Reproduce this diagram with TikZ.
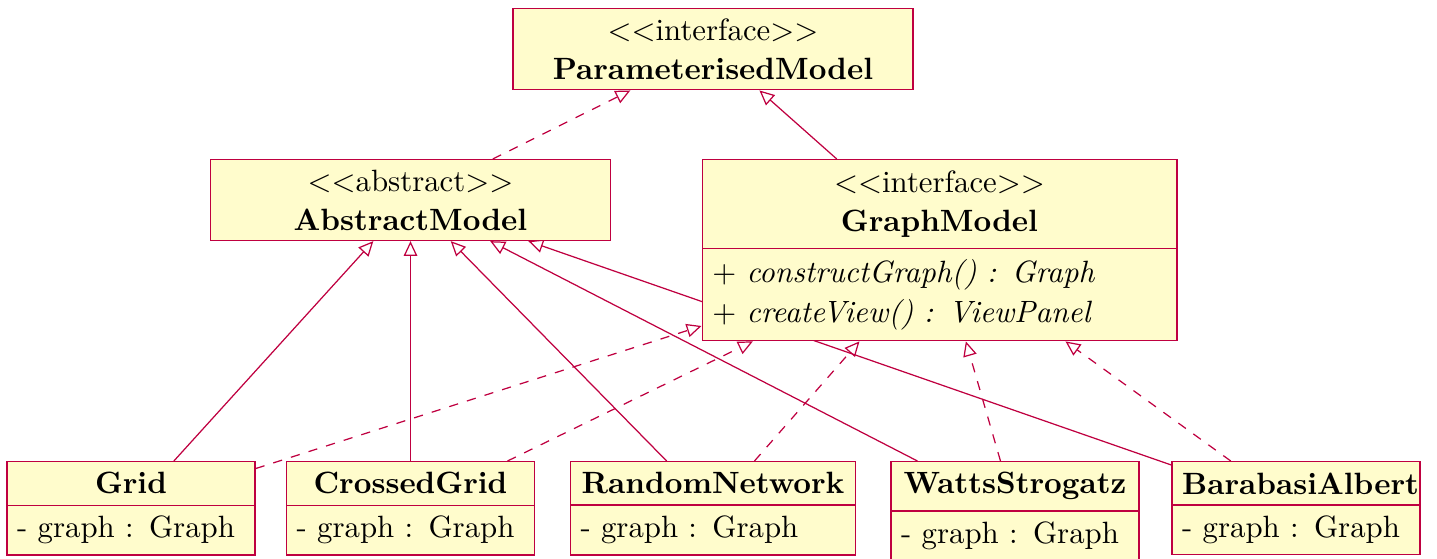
\documentclass[tikz,border=0pt]{standalone}
\usetikzlibrary{shapes.multipart,arrows.meta}
\pgfdeclarelayer{background}
\pgfsetlayers{background,main}
\tikzset{
  umlbox/.style={draw=purple, fill=yellow!20, line width=0.4pt, inner sep=3.333pt, anchor=north},
  twopart/.style={umlbox, rectangle split, rectangle split parts=2},
  inherit/.style={draw=purple, line width=0.4pt, -{Triangle[open,length=4.8pt,width=4.4pt]}},
  realize/.style={inherit, dashed},
}
\begin{document}
\begin{tikzpicture}[x=0.3247pt, y=-0.3247pt]
\useasboundingbox (0,0) rectangle (1437,558);

% interfaces and abstract class
\node[umlbox, text width=123.2pt, align=center] (pm) at (713,8)
  {$<<$interface$>>$\\[0.6pt]\textbf{ParameterisedModel}};
\node[umlbox, text width=123.2pt, align=center] (am) at (410.5,159)
  {$<<$abstract$>>$\\[0.6pt]\textbf{AbstractModel}};
\node[twopart, text width=147.5pt] (gm) at (939.5,159)
  {\centering $<<$interface$>>$\\[0.8pt]\textbf{GraphModel}\par
   \nodepart{second}\raggedright $+$ \textit{constructGraph() : Graph}\\[0.9pt]$+$ \textit{createView() : ViewPanel}\par};

% concrete models
\node[twopart, text width=73.9pt] (grid) at (131,461)
  {\centering\textbf{Grid}\par\nodepart{second}\raggedright - graph : Graph\par};
\node[twopart, text width=73.9pt] (cgrid) at (410.5,461)
  {\centering\textbf{CrossedGrid}\par\nodepart{second}\raggedright - graph : Graph\par};
\node[twopart, text width=86pt] (rnet) at (713,461)
  {\centering\textbf{RandomNetwork}\par\nodepart{second}\raggedright - graph : Graph\par};
\node[twopart, text width=73.9pt] (ws) at (1015,461)
  {\centering\textbf{WattsStrogatz}\par\nodepart{second}\raggedright - graph : Graph\par};
\node[twopart, text width=73.9pt] (ba) at (1296,461)
  {\centering\textbf{BarabasiAlbert}\par\nodepart{second}\raggedright - graph : Graph\par};

% relations
\begin{pgfonlayer}{background}
  \draw[realize] (am) -- (pm);
  \draw[inherit] (gm) -- (pm);
  \foreach \n in {grid,cgrid,rnet,ws,ba} {
    \draw[inherit] (\n) -- (am);
    \draw[realize] (\n) -- (gm);
  }
\end{pgfonlayer}
\end{tikzpicture}
\end{document}
